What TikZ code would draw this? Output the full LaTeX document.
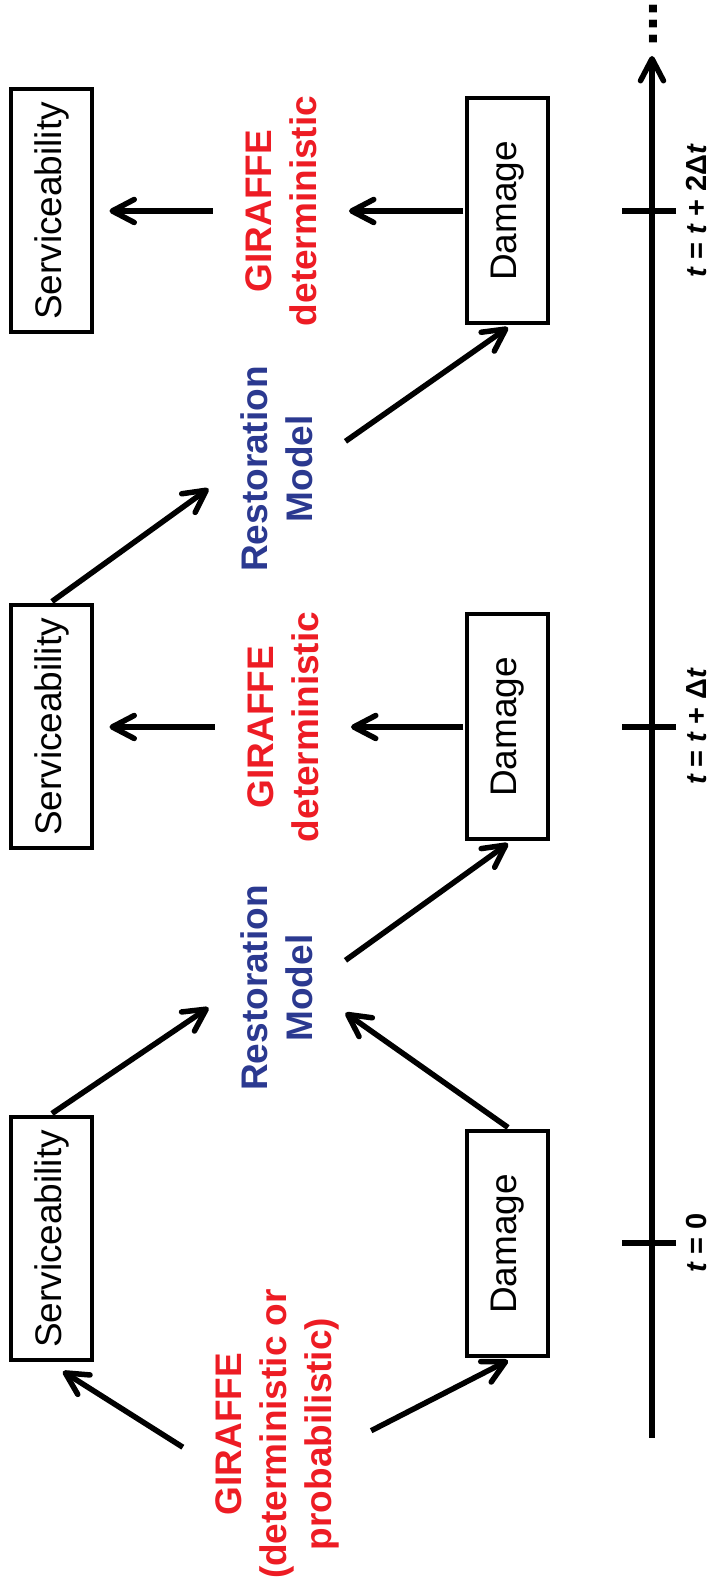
\documentclass[tikz,border=0pt]{standalone}
\usepackage{fontspec}
\setmainfont{Liberation Sans}
\usetikzlibrary{arrows.meta}
\definecolor{girred}{RGB}{237,28,36}
\definecolor{rstblue}{RGB}{43,57,144}

\begin{document}
\begin{tikzpicture}[x=0.5pt, y=0.5pt,
	stbox/.style={draw, line width=2pt, minimum height=40.5pt, inner sep=0pt, outer sep=2pt, font=\fontsize{18.5}{22.5}\selectfont},
	srv/.style={stbox, minimum width=121.5pt},
	dmg/.style={stbox, minimum width=112.5pt},
	lbl/.style={align=center, inner xsep=0pt, inner ysep=16pt, font=\bfseries\fontsize{18.5}{22.5}\selectfont},
	gir/.style={lbl, text=girred},
	rst/.style={lbl, text=rstblue},
	tlbl/.style={anchor=north, inner sep=0pt, font=\bfseries\fontsize{14.5}{17}\selectfont},
	arr/.style={line width=2.75pt, -{Straight Barb[length=11pt, width=11.5pt, round]}},
	tosrv/.style={shorten >=6.5pt}]
	\begin{scope}[rotate=90, transform shape]
		\useasboundingbox (0,0) rectangle (1589,713);
		\node[srv] (s1) at (350,661) {Serviceability};
		\node[srv] (s2) at (862,661) {Serviceability};
		\node[srv] (s3) at (1378,661) {Serviceability};
		\node[dmg] (d1) at (345,205) {Damage};
		\node[dmg] (d2) at (862,205) {Damage};
		\node[dmg] (d3) at (1378,205) {Damage};
		\node[gir] (g1) at (155,436) {GIRAFFE\\(deterministic or\\probabilistic)};
		\node[rst] (r1) at (601,436) {Restoration\\Model};
		\node[gir] (g2) at (862,430) {GIRAFFE\\deterministic};
		\node[rst] (r2) at (1120,436) {Restoration\\Model};
		\node[gir] (g3) at (1378,432) {GIRAFFE\\deterministic};
		
		\coordinate (t0) at (151,61);
		\coordinate (tend) at (1533,61);
		\draw[arr] (t0) -- (tend);
		\node[inner sep=0pt, anchor=base west, font=\bfseries\fontsize{27}{30}\selectfont] (dots) at (1542,56) {...};
		\foreach \x/\lab [count=\i] in {346/{{\itshape t} = 0}, 862/{{\itshape t} = {\itshape t} + Δ{\itshape t}}, 1378/{{\itshape t} = {\itshape t} + 2Δ{\itshape t}}} {
			\draw[line width=2.75pt] (\x,37) -- (\x,91);
			\node[tlbl] (tk\i) at (\x,27) {\lab};
		}
		
		\begin{scope}[every edge/.append style={arr}]
			\path (g1.98) edge[tosrv] (s1.west)
			(g1.272) edge (d1.west);
			\path (s1.east) edge (r1.106);
			\path (d1.east) edge (r1.250);
			\path (r1.292) edge (d2.west);
			\path (d2.north) edge (g2.south);
			\path (g2.north) edge[tosrv] (s2.south);
			\path (s2.east) edge (r2.106);
			\path (r2.292) edge (d3.west);
			\path (d3.north) edge (g3.south);
			\path (g3.north) edge[tosrv] (s3.south);
		\end{scope}
	\end{scope}
\end{tikzpicture}
\end{document}
